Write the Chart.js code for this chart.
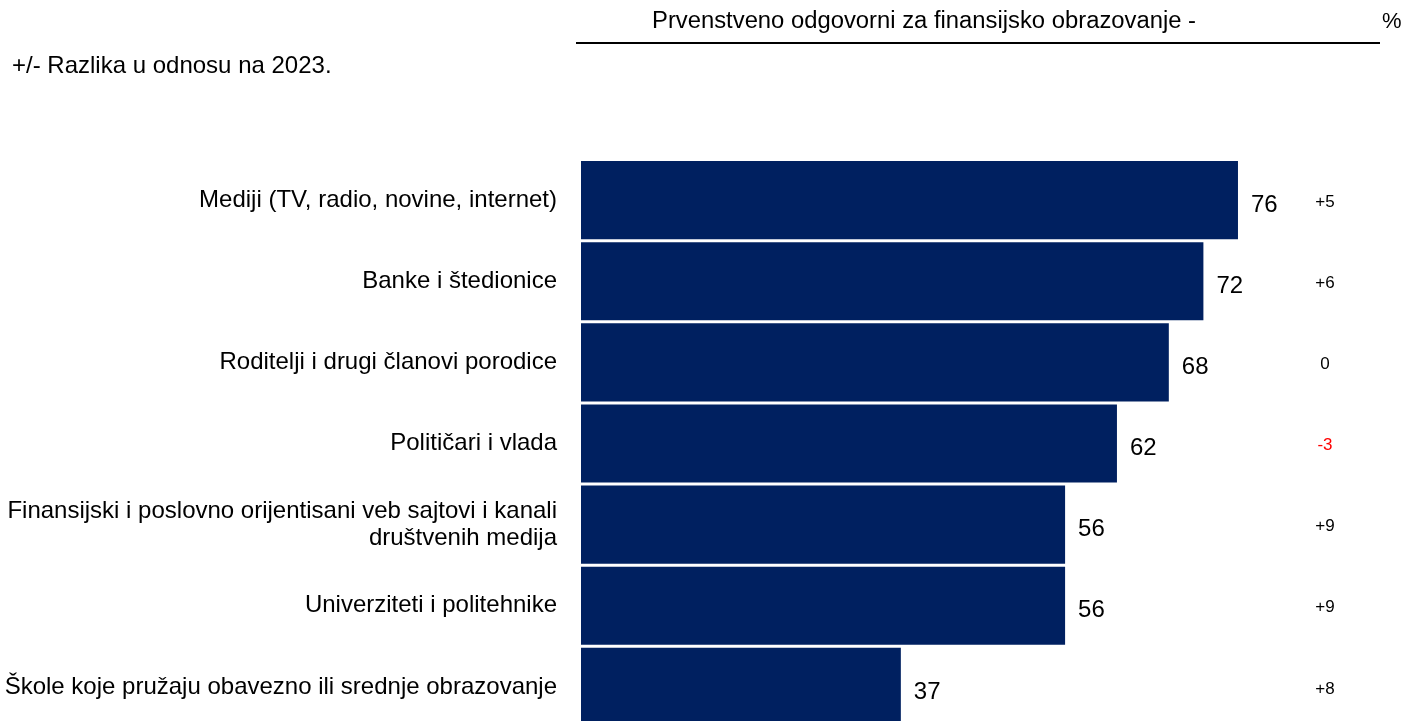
<!DOCTYPE html>
<html>
<head>
<meta charset="utf-8">
<script src="https://cdn.jsdelivr.net/npm/chart.js"></script>
<style>
  body { margin: 0; overflow: hidden; background: #fff; }
</style>
</head>
<body>
<canvas id="chart" width="1406" height="765"></canvas>
<script>
    // data
    var categories = [
        'Mediji (TV, radio, novine, internet)',
        'Banke i štedionice',
        'Roditelji i drugi članovi porodice',
        'Političari i vlada',
        ['Finansijski i poslovno orijentisani veb sajtovi i kanali', 'društvenih medija'],
        'Univerziteti i politehnike',
        'Škole koje pružaju obavezno ili srednje obrazovanje'
    ];
    var values = [76, 72, 68, 62, 56, 56, 37];
    var changes = ['+5', '+6', '0', '-3', '+9', '+9', '+8'];

    var title = 'Prvenstveno odgovorni za finansijsko obrazovanje -';
    var subtitle = '+/- Razlika u odnosu na 2023.';

    var font = '"Liberation Sans", Arial, sans-serif';

    var overlay = {
        id: 'overlay',
        afterDraw: function(chart) {
            var ctx = chart.ctx;
            var x = chart.scales.x, y = chart.scales.y;
            ctx.save();
            ctx.fillStyle = '#000';
            ctx.textBaseline = 'middle';

            // header, fitted to the width of the original
            ctx.font = '23px ' + font;
            var w = ctx.measureText(title).width;
            ctx.save();
            ctx.translate(652, 22);
            ctx.scale(544 / w, 1);
            ctx.textAlign = 'left';
            ctx.fillText(title, 0, 0);
            ctx.restore();
            ctx.textAlign = 'left';
            ctx.font = '22px ' + font;
            ctx.fillText('%', 1382, 22);
            ctx.fillRect(576, 42, 804, 2);

            ctx.font = '24px ' + font;
            ctx.fillText(subtitle, 12, 66);

            // value labels and change column
            values.forEach(function(v, i) {
                var cy = y.getPixelForValue(i);
                ctx.textAlign = 'left';
                ctx.fillStyle = '#000';
                ctx.font = '24px ' + font;
                ctx.fillText(String(v), x.getPixelForValue(v) + 13, cy + 5);

                ctx.textAlign = 'center';
                ctx.font = '17px ' + font;
                ctx.fillStyle = changes[i].charAt(0) === '-' ? '#ff0000' : '#000';
                ctx.fillText(changes[i], 1325, cy + 2);
            });
            ctx.restore();
        }
    };

    var chart = new Chart(document.getElementById('chart'), {
        type: 'bar',
        data: {
            labels: categories,
            datasets: [{
                data: values,
                backgroundColor: '#002060',
                borderWidth: 0,
                barPercentage: 0.963,
                categoryPercentage: 1
            }]
        },
        options: {
            indexAxis: 'y',
            responsive: false,
            animation: false,
            layout: { padding: { top: 159.5, right: 47, bottom: 0, left: 0 } },
            plugins: {
                legend: { display: false },
                tooltip: { enabled: false }
            },
            scales: {
                x: { display: false, min: 0, max: 90 },
                y: {
                    afterFit: function(scale) { scale.width = 581; },
                    grid: { display: false, drawTicks: false },
                    border: { display: false },
                    ticks: {
                        padding: 24,
                        color: '#000',
                        font: { family: font, size: 24, lineHeight: 1.125 }
                    }
                }
            }
        },
        plugins: [overlay]
    });
</script>
</body>
</html>
